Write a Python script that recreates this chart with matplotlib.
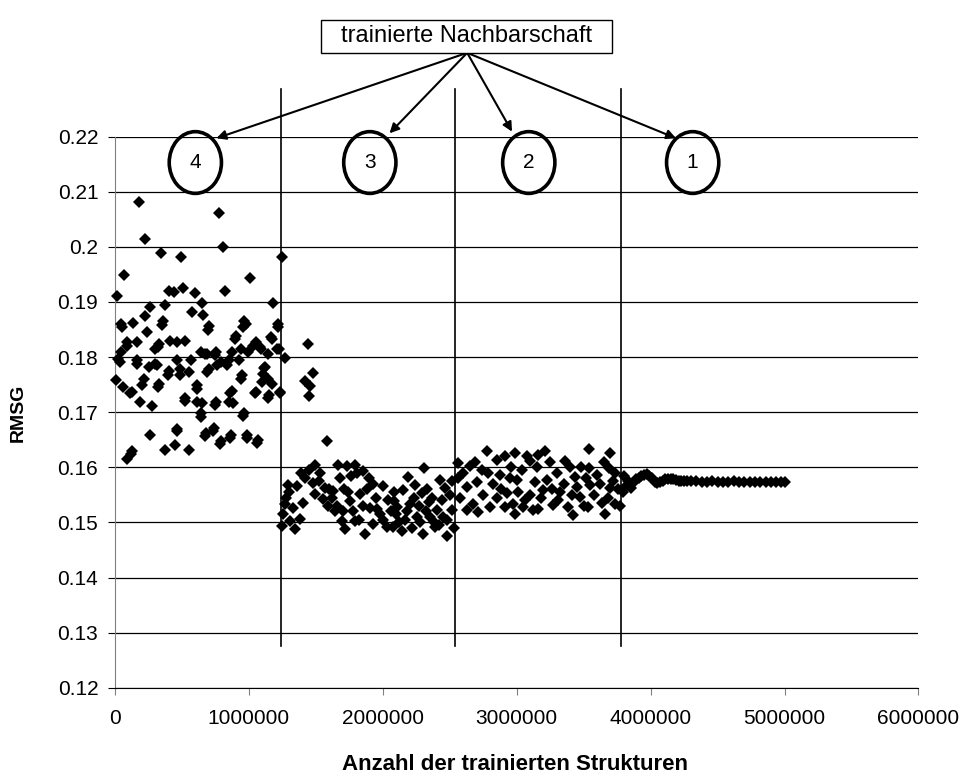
import numpy as np
import matplotlib.pyplot as plt
from matplotlib.patches import Ellipse, Rectangle

plt.rcParams['font.family'] = ['Liberation Sans', 'DejaVu Sans']

# Nachbarschaft 4 (0 .. 1.24 Mio), x in Strukturen, y = RMSG
x_n4 = [180000, 780000, 226000, 810000, 343000, 494000, 1245000, 70000, 1005000, 13000,
        406000, 444000, 509000, 600000, 822000, 652000, 1183000, 376000, 258000, 576000,
        660000, 226000, 43000, 133000, 358000, 965000, 982000, 1215000, 702000, 238000,
        88000, 163000, 326000, 414000, 464000, 526000, 301000, 902000, 1053000, 1165000,
        25000, 43000, 163000, 464000, 564000, 639000, 689000, 752000, 789000, 852000,
        940000, 990000, 1090000, 1140000, 1228000, 1266000, 251000, 301000, 401000, 489000,
        551000, 702000, 945000, 1115000, 1140000, 5000, 63000, 125000, 188000, 276000,
        326000, 213000, 526000, 614000, 614000, 752000, 852000, 877000, 1053000, 1153000,
        1233000, 639000, 960000, 263000, 464000, 677000, 739000, 789000, 865000, 985000,
        1065000, 376000, 451000, 551000, 125000, 88000,
        50000, 349000, 87000, 324000, 37000, 162000, 311000, 398000, 199000, 324000,
        485000, 610000, 112000, 523000, 640000, 460000, 117000,
        697000, 958000, 1220000, 896000, 1170000, 1033000, 1083000, 672000, 747000, 871000,
        929000, 1207000, 685000, 760000, 834000, 1120000, 1108000, 938000, 1095000, 1170000,
        1045000, 1145000, 1232000, 859000, 747000, 884000, 647000, 954000, 735000, 672000,
        784000, 859000, 983000, 1063000,
        1440000, 1476000, 1419000, 1457000, 1452000, 1585000]
y_n4 = [0.2082, 0.2061, 0.2014, 0.1999, 0.1989, 0.1982, 0.1982, 0.1949, 0.1943, 0.1910,
        0.1920, 0.1918, 0.1925, 0.1917, 0.1920, 0.1899, 0.1899, 0.1895, 0.1890, 0.1881,
        0.1877, 0.1875, 0.1860, 0.1862, 0.1866, 0.1866, 0.1860, 0.1860, 0.1856, 0.1845,
        0.1827, 0.1827, 0.1823, 0.1829, 0.1827, 0.1830, 0.1815, 0.1839, 0.1827, 0.1836,
        0.1797, 0.1809, 0.1795, 0.1795, 0.1795, 0.1809, 0.1806, 0.1810, 0.1791, 0.1794,
        0.1815, 0.1809, 0.1815, 0.1806, 0.1815, 0.1798, 0.1782, 0.1788, 0.1774, 0.1779,
        0.1773, 0.1779, 0.1767, 0.1780, 0.1761, 0.1758, 0.1746, 0.1737, 0.1719, 0.1711,
        0.1752, 0.1761, 0.1726, 0.1719, 0.1749, 0.1719, 0.1719, 0.1738, 0.1737, 0.1731,
        0.1737, 0.1698, 0.1698, 0.1659, 0.1669, 0.1662, 0.1671, 0.1648, 0.1659, 0.1659,
        0.1650, 0.1632, 0.1641, 0.1632, 0.1630, 0.1615,
        0.1854, 0.1858, 0.1821, 0.1818, 0.1791, 0.1788, 0.1785, 0.1767, 0.1749, 0.1746,
        0.1767, 0.1743, 0.1735, 0.1720, 0.1692, 0.1666, 0.1624,
        0.1849, 0.1854, 0.1854, 0.1833, 0.1833, 0.1821, 0.1818, 0.1806, 0.1803, 0.1809,
        0.1794, 0.1815, 0.1773, 0.1785, 0.1785, 0.1782, 0.1770, 0.1760, 0.1755, 0.1752,
        0.1735, 0.1726, 0.1735, 0.1735, 0.1714, 0.1717, 0.1717, 0.1693, 0.1666, 0.1657,
        0.1642, 0.1654, 0.1654, 0.1645,
        0.1823, 0.1772, 0.1756, 0.1748, 0.1730, 0.1647]

# Nachbarschaft 3 (1.24 .. 2.54 Mio)
x_n3 = [1494000, 1387000, 1295000, 1357000, 1270000, 1257000, 1245000, 1344000, 1382000, 1332000,
        1407000, 1531000, 1481000, 1494000, 1556000, 1594000, 1668000, 1731000, 1793000, 1855000,
        1681000, 1805000, 1643000, 1693000, 1718000, 1793000, 1868000, 1755000, 1830000, 1930000,
        2005000, 1905000, 1980000, 1930000, 2030000, 2080000, 2100000, 1569000, 1631000, 2190000,
        2310000, 2080000, 2154000, 2240000, 2290000, 2430000, 2465000, 2104000, 2204000, 2342000,
        2402000, 2079000, 2166000, 2253000, 2353000, 2478000, 2303000, 2478000, 2390000, 2515000,
        1280000, 1310000, 1300000, 1420000, 1450000, 1520000, 1600000, 1620000, 1660000, 1700000,
        1710000, 1740000, 1760000, 1780000, 1820000, 1850000, 1880000, 1900000, 1950000, 1960000,
        2000000, 2040000, 2060000, 2120000, 2140000, 2180000, 2220000, 2230000, 2270000, 2280000,
        2320000, 2330000, 2370000, 2380000, 2420000, 2440000, 2450000, 2500000, 2520000, 2530000]
y_n3 = [0.1605, 0.1590, 0.1568, 0.1566, 0.1533, 0.1515, 0.1494, 0.1488, 0.1506, 0.1527,
        0.1536, 0.1590, 0.1572, 0.1551, 0.1542, 0.1530, 0.1605, 0.1602, 0.1605, 0.1593,
        0.1581, 0.1590, 0.1521, 0.1503, 0.1488, 0.1503, 0.1479, 0.1539, 0.1551, 0.1569,
        0.1566, 0.1527, 0.1515, 0.1497, 0.1491, 0.1539, 0.1515, 0.1563, 0.1557, 0.1582,
        0.1599, 0.1556, 0.1559, 0.1568, 0.1553, 0.1577, 0.1562, 0.1528, 0.1534, 0.1537,
        0.1522, 0.1491, 0.1504, 0.1510, 0.1510, 0.1504, 0.1479, 0.1476, 0.1491, 0.1522,
        0.1545, 0.1502, 0.1555, 0.1580, 0.1595, 0.1575, 0.1560, 0.1545, 0.1530, 0.1520,
        0.1560, 0.1555, 0.1585, 0.1520, 0.1505, 0.1530, 0.1560, 0.1580, 0.1545, 0.1525,
        0.1505, 0.1540, 0.1520, 0.1500, 0.1485, 0.1520, 0.1490, 0.1545, 0.1530, 0.1500,
        0.1520, 0.1560, 0.1545, 0.1500, 0.1495, 0.1540, 0.1510, 0.1550, 0.1575, 0.1490]

# Nachbarschaft 2 (2.54 .. 3.78 Mio)
x_n2 = [2776000, 2564000, 2651000, 2850000, 2913000, 2988000, 2564000, 2627000, 2701000, 2789000,
        2876000, 2950000, 2576000, 2676000, 2627000, 2751000, 2850000, 2925000, 2975000, 2714000,
        2801000, 2913000, 3161000, 3211000, 3540000, 3697000, 3360000, 3100000, 3540000, 3690000,
        3000000, 3137000, 3224000, 3435000, 3597000, 3735000, 3012000, 3100000, 3199000, 3324000,
        3473000, 3548000, 3697000, 3050000, 3161000, 3274000, 3386000, 3535000, 3660000, 3735000,
        2987000, 3423000, 3124000,
        2600000, 2690000, 2740000, 2820000, 2880000, 2960000, 3040000, 3060000, 3080000, 3150000,
        3180000, 3250000, 3260000, 3300000, 3310000, 3350000, 3400000, 3410000, 3450000, 3480000,
        3500000, 3520000, 3580000, 3620000, 3640000, 3650000, 3680000, 3720000, 3760000, 3770000]
y_n2 = [0.1629, 0.1608, 0.1602, 0.1614, 0.1620, 0.1626, 0.1580, 0.1565, 0.1574, 0.1590,
        0.1587, 0.1580, 0.1544, 0.1534, 0.1522, 0.1550, 0.1544, 0.1553, 0.1534, 0.1519,
        0.1528, 0.1528, 0.1623, 0.1629, 0.1634, 0.1626, 0.1611, 0.1611, 0.1599, 0.1599,
        0.1577, 0.1574, 0.1577, 0.1583, 0.1587, 0.1590, 0.1556, 0.1550, 0.1559, 0.1556,
        0.1547, 0.1568, 0.1562, 0.1528, 0.1525, 0.1531, 0.1528, 0.1528, 0.1516, 0.1534,
        0.1516, 0.1513, 0.1522,
        0.1590, 0.1610, 0.1595, 0.1570, 0.1560, 0.1600, 0.1595, 0.1540, 0.1620, 0.1600,
        0.1545, 0.1610, 0.1560, 0.1590, 0.1540, 0.1570, 0.1600, 0.1550, 0.1565, 0.1600,
        0.1530, 0.1580, 0.1550, 0.1570, 0.1535, 0.1610, 0.1545, 0.1575, 0.1560, 0.1530]

# Nachbarschaft 1 (3.78 .. 5 Mio)
x_n1 = [3790000, 3800000, 3810000, 3830000, 3850000, 3870000, 3890000, 3910000, 3930000, 3950000,
        3970000, 3990000, 4010000, 4030000, 4050000, 4070000, 4090000, 4110000, 4130000, 4150000,
        4170000, 4190000, 4210000, 4230000, 4250000, 4270000, 4300000, 4340000, 4380000, 4420000,
        4460000, 4500000, 4540000, 4580000, 4620000, 4660000, 4700000, 4740000, 4780000, 4820000,
        4860000, 4900000, 4940000, 4970000, 5000000]
y_n1 = [0.1555, 0.1585, 0.1565, 0.1575, 0.1562, 0.1572, 0.1578, 0.1581, 0.1584, 0.1587,
        0.1588, 0.1585, 0.1580, 0.1574, 0.1572, 0.1574, 0.1576, 0.1578, 0.1579, 0.1579,
        0.1578, 0.1577, 0.1576, 0.1575, 0.1575, 0.1575, 0.1575, 0.1575, 0.1574, 0.1574,
        0.1575, 0.1574, 0.1574, 0.1574, 0.1575, 0.1574, 0.1574, 0.1574, 0.1574, 0.1574,
        0.1574, 0.1574, 0.1574, 0.1574, 0.1574]

# Grenzen der Trainingsphasen und Beschriftung
phase_bounds = [1240000, 2540000, 3780000]
circle_x = [600000, 1903000, 3090000, 4314000]
circle_labels = ['4', '3', '2', '1']
arrow_ends = [(757000, 0.2197), (2050000, 0.2206), (2965000, 0.2209), (4190000, 0.2197)]

y_ticks = [0.12, 0.13, 0.14, 0.15, 0.16, 0.17, 0.18, 0.19, 0.2, 0.21, 0.22]
x_ticks = [0, 1000000, 2000000, 3000000, 4000000, 5000000, 6000000]

fig = plt.figure(figsize=(9.68, 7.78), dpi=100)
ax = fig.add_axes([0.1188, 0.1159, 0.83, 0.7085])

ax.set_xlim(0, 6000000)
ax.set_ylim(0.12, 0.22)
ax.set_yticks(y_ticks)
ax.set_yticklabels([f'{v:g}' for v in y_ticks])
ax.set_xticks(x_ticks)
ax.set_xticklabels([str(v) for v in x_ticks])

for s in ['top', 'right']:
    ax.spines[s].set_visible(False)
ax.spines['left'].set_color('#808080')
ax.spines['bottom'].set_color('black')
ax.grid(axis='y', color='black', lw=0.9)
ax.set_axisbelow(True)
ax.tick_params(axis='y', length=5, color='black', pad=7, labelsize=15)
ax.tick_params(axis='x', length=5, color='#808080', pad=10, labelsize=15)

# vertikale Trennlinien
for xb in phase_bounds:
    ax.plot([xb, xb], [0.1276, 0.2286], color='black', lw=1.2, clip_on=False, zorder=2)

# Messpunkte
for xs, ys in [(x_n4, y_n4), (x_n3, y_n3), (x_n2, y_n2), (x_n1, y_n1)]:
    ax.plot(xs, ys, 'D', color='black', ms=6.2, mew=0, zorder=3, clip_on=False)

# Kreise mit Nummern
for cx, lab in zip(circle_x, circle_labels):
    ax.add_patch(Ellipse((cx, 0.2153), width=390000, height=0.0112, fill=False,
                         ec='black', lw=2.6, clip_on=False, zorder=4))
    ax.text(cx, 0.2153, lab, ha='center', va='center', fontsize=15, zorder=5)

# Kasten mit Pfeilen
ax.add_patch(Rectangle((1540000, 0.2352), 2170000, 0.006, fc='white', ec='black',
                       lw=1, clip_on=False, zorder=4))
ax.text(2625000, 0.2382, 'trainierte Nachbarschaft', ha='center', va='center',
        fontsize=17, zorder=5)
for end in arrow_ends:
    ax.annotate('', xy=end, xytext=(2630000, 0.2352),
                arrowprops=dict(arrowstyle='-|>', color='black', lw=1.5,
                                mutation_scale=14, shrinkA=0, shrinkB=0),
                annotation_clip=False)

fig.text(0.019, 0.47, 'RMSG', rotation=90, ha='center', va='center',
         fontsize=14, fontweight='bold')
fig.text(0.532, 0.017, 'Anzahl der trainierten Strukturen', ha='center', va='center',
         fontsize=16, fontweight='bold')

fig.savefig('out.png', dpi=100)
